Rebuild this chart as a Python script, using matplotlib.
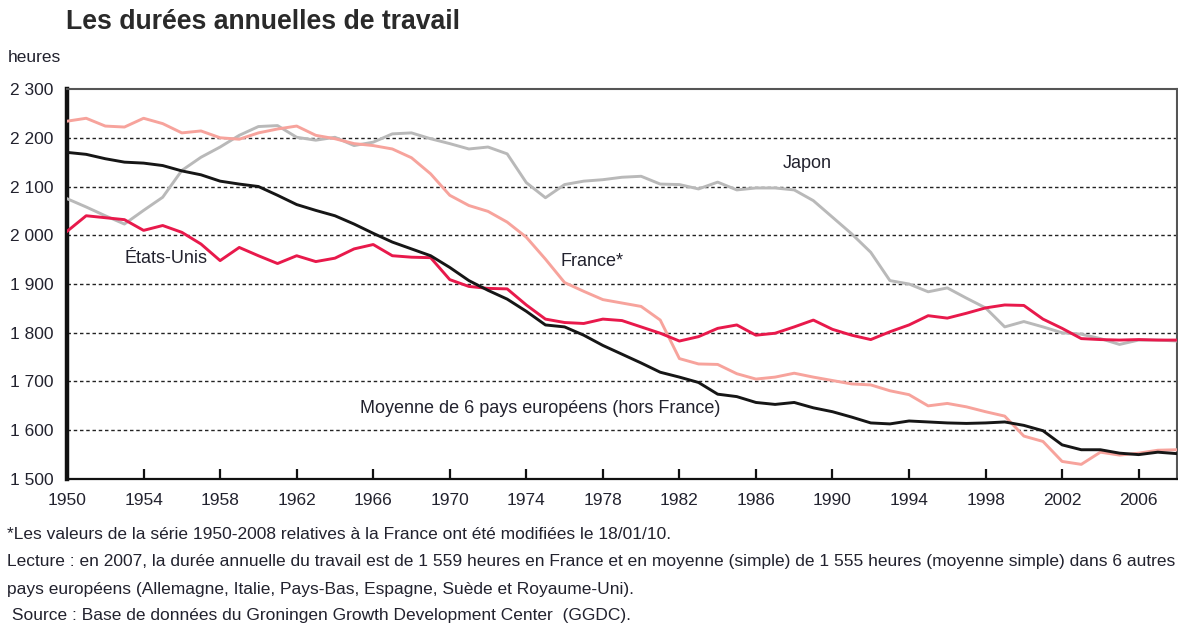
import numpy as np
import matplotlib.pyplot as plt
from matplotlib import font_manager

# Data (heures annuelles, 1950-2008)
annees = list(range(1950, 2009))

france = [2234, 2240, 2224, 2222, 2240, 2229, 2210, 2214, 2200, 2197,
          2210, 2218, 2224, 2205, 2198, 2188, 2184, 2177, 2159, 2126,
          2082, 2061, 2049, 2027, 1996, 1951, 1903, 1885, 1868, 1861,
          1854, 1826, 1747, 1736, 1735, 1716, 1705, 1709, 1717, 1709,
          1702, 1695, 1693, 1681, 1673, 1650, 1655, 1648, 1638, 1629,
          1588, 1577, 1536, 1530, 1555, 1549, 1553, 1559, 1560]

japon = [2075, 2058, 2040, 2023, 2051, 2078, 2133, 2160, 2181, 2205,
         2223, 2225, 2201, 2195, 2201, 2184, 2191, 2208, 2210, 2198,
         2188, 2177, 2181, 2167, 2108, 2077, 2104, 2111, 2114, 2119,
         2121, 2105, 2104, 2095, 2109, 2093, 2097, 2097, 2093, 2071,
         2037, 2003, 1965, 1907, 1900, 1884, 1892, 1871, 1851, 1812,
         1823, 1812, 1800, 1797, 1788, 1776, 1785, 1785, 1783]

etats_unis = [2008, 2040, 2036, 2032, 2010, 2020, 2006, 1982, 1948, 1975,
              1958, 1942, 1958, 1946, 1953, 1972, 1981, 1958, 1955, 1954,
              1909, 1895, 1891, 1890, 1857, 1828, 1821, 1819, 1828, 1825,
              1812, 1799, 1783, 1792, 1809, 1816, 1795, 1799, 1812, 1826,
              1807, 1795, 1786, 1802, 1816, 1835, 1830, 1840, 1851, 1857,
              1856, 1828, 1809, 1788, 1786, 1785, 1786, 1785, 1785]

europe6 = [2170, 2166, 2157, 2150, 2148, 2143, 2132, 2124, 2111, 2105,
           2100, 2082, 2063, 2051, 2040, 2023, 2004, 1986, 1972, 1958,
           1934, 1907, 1887, 1869, 1844, 1816, 1812, 1795, 1774, 1756,
           1738, 1719, 1709, 1698, 1674, 1669, 1657, 1653, 1657, 1646,
           1638, 1627, 1615, 1613, 1619, 1617, 1615, 1614, 1615, 1617,
           1610, 1599, 1570, 1560, 1560, 1553, 1550, 1555, 1552]

x_ticks = list(range(1950, 2007, 4))
y_ticks = [1500, 1600, 1700, 1800, 1900, 2000, 2100, 2200, 2300]
y_labels = ['1 500', '1 600', '1 700', '1 800', '1 900', '2 000', '2 100', '2 200', '2 300']

# Font: narrow sans if available
names = {f.name for f in font_manager.fontManager.ttflist}
narrow = 'Liberation Sans Narrow' if 'Liberation Sans Narrow' in names else 'Liberation Sans'
plt.rcParams['font.family'] = [narrow, 'DejaVu Sans']

text_col = '#22222e'

fig = plt.figure(figsize=(11.78, 6.30), dpi=100)
ax = fig.add_axes([0.0569, 0.2397, 0.9422, 0.619])

ax.plot(annees, japon, color='#b9b9b9', lw=2.1, zorder=3)
ax.plot(annees, france, color='#f7a39c', lw=2.1, zorder=4)
ax.plot(annees, etats_unis, color='#e8194b', lw=2.1, zorder=5)
ax.plot(annees, europe6, color='#161616', lw=2.1, zorder=6)

ax.set_xlim(1950, 2008)
ax.set_ylim(1500, 2300)

for v in y_ticks[1:-1]:
    ax.axhline(v, color='#222222', lw=1.0, ls=(0, (2.5, 2)), zorder=1)

ax.set_xticks(x_ticks)
ax.set_xticklabels([str(t) for t in x_ticks], fontsize=12.5, color=text_col)
ax.set_yticks(y_ticks)
ax.set_yticklabels(y_labels, fontsize=12.5, color=text_col)
ax.tick_params(axis='x', direction='in', length=7, width=1.6, color='#111111', pad=10)
ax.tick_params(axis='y', length=0, pad=10)

ax.spines['left'].set_linewidth(3.2)
ax.spines['left'].set_color('#111111')
ax.spines['bottom'].set_linewidth(1.6)
ax.spines['bottom'].set_color('#111111')
for s in ['top', 'right']:
    ax.spines[s].set_linewidth(1.5)
    ax.spines[s].set_color('#555555')

# Series labels
ax.text(1987.4, 2147, 'Japon', fontsize=13, color=text_col, va='center', ha='left')
ax.text(1975.8, 1947, 'France*', fontsize=13, color=text_col, va='center', ha='left')
ax.text(1953.0, 1953, 'États-Unis', fontsize=13, color=text_col, va='center', ha='left')
ax.text(1965.3, 1645, 'Moyenne de 6 pays européens (hors France)', fontsize=13,
        color=text_col, va='center', ha='left')

# Title and unit
fig.text(0.056, 0.965, 'Les durées annuelles de travail', fontsize=19.2, fontweight='bold',
         color='#2a2a2a', va='center', ha='left')
fig.text(0.007, 0.909, 'heures', fontsize=12.5, color=text_col, va='center', ha='left')

# Notes
notes = [
    '*Les valeurs de la série 1950-2008 relatives à la France ont été modifiées le 18/01/10.',
    'Lecture : en 2007, la durée annuelle du travail est de 1 559 heures en France et en moyenne (simple) de 1 555 heures (moyenne simple) dans 6 autres',
    'pays européens (Allemagne, Italie, Pays-Bas, Espagne, Suède et Royaume-Uni).',
    ' Source : Base de données du Groningen Growth Development Center  (GGDC).',
]
note_y = [0.151, 0.108, 0.065, 0.023]
for t, yy in zip(notes, note_y):
    fig.text(0.006, yy, t, fontsize=12.5, color=text_col, va='center', ha='left')

fig.savefig('out.png', dpi=100)
